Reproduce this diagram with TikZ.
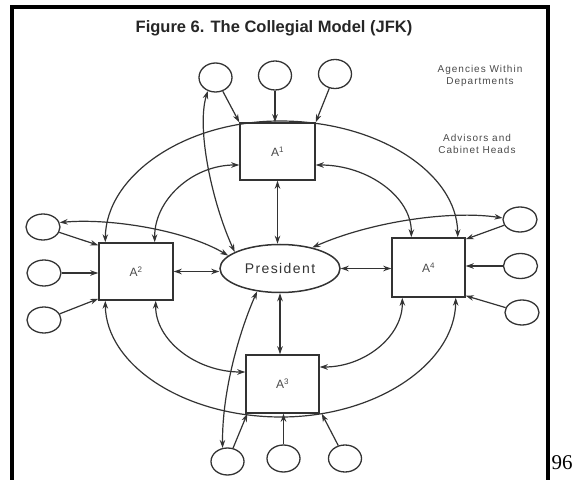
\documentclass[tikz,border=0pt]{standalone}
\usepackage{fontspec}
\setmainfont{Liberation Sans}
\newfontfamily\serifnum{Liberation Serif}
\newfontfamily\spaced[LetterSpace=10]{Liberation Sans}
\usetikzlibrary{shapes.geometric,arrows.meta}
\definecolor{ink}{HTML}{333333}
\definecolor{txt}{HTML}{4a4a4a}
\tikzset{
  ln/.style={draw=ink, line width=1.2pt},
  circn/.style={ellipse, draw=ink, line width=1.3pt, inner sep=0pt, fill=white},
  boxn/.style={rectangle, draw=ink, line width=1.5pt, inner sep=0pt, text=txt, font=\fontsize{12}{14}\selectfont},
  arr/.style={ln, -{Stealth[length=8pt,width=5.5pt]}},
  darr/.style={ln, {Stealth[length=8pt,width=5.5pt]}-{Stealth[length=8pt,width=5.5pt]}},
  lbl/.style={text=txt, align=center, inner sep=0pt, font=\spaced\fontsize{10}{12}\selectfont},
}
\begin{document}
\begin{tikzpicture}[x=1pt,y=1pt]
\fill[white] (0,0) rectangle (574,480);
\useasboundingbox (0,0) rectangle (574,480);
% frame
\draw[line width=4pt, line join=miter] (11.5,-2) -- (11.5,472.5) -- (547.5,472.5) -- (547.5,-2);
% texts
\node[inner sep=0pt, text=black!85, font=\bfseries\fontsize{16.5}{18}\selectfont] (ttl) at (274,452) {Figure 6. The Collegial Model (JFK)};
\node[lbl] (agn) at (480,404) {Agencies Within\\Departments};
\node[lbl] (adv) at (477,336.5) {Advisors and\\Cabinet Heads};
\node[anchor=base, inner sep=0pt, font=\serifnum\fontsize{21}{24}\selectfont] (pg) at (562,10) {96};
% boxes
\node[boxn, minimum width=75pt, minimum height=57pt] (A1) at (277.5,328.5) {A\textsuperscript{1}};
\node[boxn, minimum width=74pt, minimum height=57pt] (A2) at (136,208.5) {A\textsuperscript{2}};
\node[boxn, minimum width=73pt, minimum height=59pt] (A4) at (428.5,212.5) {A\textsuperscript{4}};
\node[boxn, minimum width=73pt, minimum height=58pt] (A3) at (282.5,96) {A\textsuperscript{3}};
\node[ellipse, draw=ink, line width=1.5pt, inner sep=0pt, minimum width=120pt, minimum height=48pt, text=ink, font=\spaced\fontsize{14}{16}\selectfont] (P) at (280,211.5) {President};
% circles
\node[circn, minimum width=33pt, minimum height=29pt] (t1) at (215.5,402.5) {};
\node[circn, minimum width=33pt, minimum height=29pt] (t2) at (275,404.5) {};
\node[circn, minimum width=33pt, minimum height=29pt] (t3) at (335,406) {};
\node[circn, minimum width=34pt, minimum height=26pt] (l1) at (43,253) {};
\node[circn, minimum width=34pt, minimum height=26pt] (l2) at (44,207) {};
\node[circn, minimum width=34pt, minimum height=26pt] (l3) at (44,160) {};
\node[circn, minimum width=34pt, minimum height=25pt] (r1) at (520,260.5) {};
\node[circn, minimum width=34pt, minimum height=25pt] (r2) at (520.5,214) {};
\node[circn, minimum width=34pt, minimum height=25pt] (r3) at (522,167.5) {};
\node[circn, minimum width=33pt, minimum height=27pt] (b1) at (227.5,18.5) {};
\node[circn, minimum width=33pt, minimum height=27pt] (b2) at (283.5,21.5) {};
\node[circn, minimum width=33pt, minimum height=27pt] (b3) at (345,21.5) {};
\coordinate (topPk) at (280,359);
\coordinate (botPk) at (281,63);
% outer arcs
\draw[darr] ([xshift=7pt]A2.north west) .. controls (106,304) and (184,359) .. (topPk) .. controls (378,359) and (457,307) .. ([xshift=-8pt]A4.north east);
\draw[darr] ([xshift=7pt]A2.south west) .. controls (106,115) and (184,63) .. (botPk) .. controls (377,63) and (455,117) .. ([xshift=-10pt]A4.south east);
% inner arcs
\draw[darr] ([xshift=-19pt]A2.north east) .. controls (154,280) and (192.5,315) .. ([yshift=-13.5pt]A1.west);
\draw[darr] ([yshift=-13.5pt]A1.east) .. controls (368.6,315) and (412,282.3) .. ([xshift=20pt]A4.north west);
\draw[darr] ([xshift=-18pt]A2.south east) .. controls (155,140.2) and (195.7,108) .. ([yshift=12pt]A3.west);
\draw[darr] ([xshift=11pt]A4.south west) .. controls (403,144.3) and (365.4,113) .. ([yshift=17pt]A3.east);
% president links
\draw[darr] (A1.south) -- (A1.south |- P.north);
\draw[darr] (P.south) -- (P.south |- A3.north);
\draw[darr] (A2.east) -- (A2.east -| P.west);
\draw[darr] (P.east) -- (P.east -| A4.west);
% circles to boxes
\draw[arr] (t1) -- (A1.north west);
\draw[arr] (t2) -- (t2 |- A1.north);
\draw[arr] (t3) -- (A1.north east);
\draw[arr] (b1) -- ([xshift=2pt]A3.south west);
\draw[arr] (b2) -- (b2 |- A3.south);
\draw[arr] (b3) -- ([xshift=2pt]A3.south east);
\draw[arr] (l1) -- ([yshift=-3pt]A2.north west);
\draw[arr] (l2) -- (l2 -| A2.west);
\draw[arr] (l3) -- ([yshift=2pt]A2.south west);
\draw[arr] (r1) -- ([yshift=-2pt]A4.north east);
\draw[arr] (r2) -- (r2 -| A4.east);
\draw[arr] (r3) -- ([yshift=2pt]A4.south east);
% curves to president
\draw[darr] (P.160) .. controls (213,275) and (196,350) .. (t1.240);
\draw[darr] (l1.15) .. controls (110,262) and (185,250) .. (P.166);
\draw[darr] (r1.175) .. controls (450,270) and (370,258) .. (P.33);
\draw[darr] (P.225) .. controls (240,150) and (222,90) .. (b1.110);
\end{tikzpicture}
\end{document}
